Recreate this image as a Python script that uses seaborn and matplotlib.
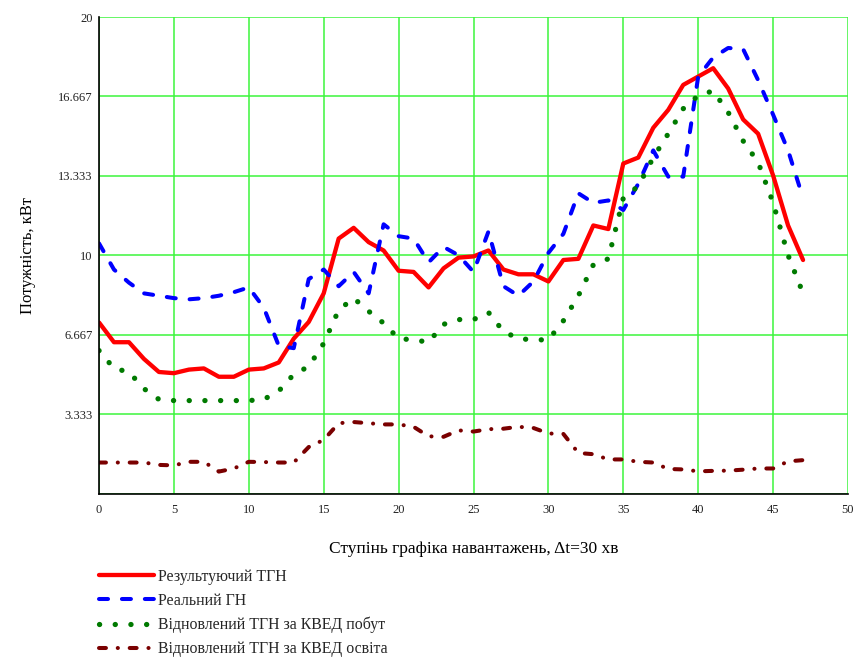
import matplotlib
matplotlib.use("Agg")
import matplotlib.pyplot as plt
import seaborn as sns

# Load-schedule steps (30-minute intervals)
steps = list(range(48))

# Power, kW
resulting = [7.18, 6.35, 6.35, 5.65, 5.1, 5.05, 5.2, 5.25, 4.9, 4.9,
             5.2, 5.25, 5.5, 6.5, 7.2, 8.4, 10.7, 11.15, 10.55, 10.2,
             9.35, 9.3, 8.65, 9.45, 9.9, 9.95, 10.2, 9.4, 9.2, 9.2,
             8.9, 9.8, 9.85, 11.25, 11.1, 13.85, 14.1, 15.35, 16.1, 17.15,
             17.5, 17.85, 17.0, 15.7, 15.1, 13.35, 11.25, 9.8]
real = [10.5, 9.4, 8.85, 8.4, 8.3, 8.2, 8.15, 8.2, 8.3, 8.45,
        8.65, 7.8, 6.2, 6.1, 9.0, 9.4, 8.7, 9.3, 8.4, 11.3,
        10.8, 10.7, 9.7, 10.35, 10.0, 9.3, 11.0, 8.7, 8.3, 8.9,
        10.1, 10.9, 12.6, 12.2, 12.3, 11.9, 13.0, 14.4, 13.3, 13.3,
        17.5, 18.3, 18.7, 18.65, 17.35, 15.9, 14.4, 12.4]
household = [6.0, 5.25, 5.1, 4.4, 3.95, 3.9, 3.9, 3.9, 3.9, 3.9,
             3.9, 3.95, 4.3, 5.0, 5.33, 6.3, 7.7, 8.2, 7.65, 7.15,
             6.5, 6.45, 6.35, 7.1, 7.3, 7.3, 7.6, 6.8, 6.5, 6.45,
             6.45, 7.25, 8.3, 9.6, 9.85, 12.4, 12.9, 14.1, 15.1, 16.15,
             16.7, 16.9, 16.0, 14.8, 13.9, 12.2, 10.0, 8.4]
education = [1.3, 1.3, 1.3, 1.3, 1.2, 1.18, 1.33, 1.33, 0.92, 1.05,
             1.33, 1.32, 1.3, 1.3, 1.95, 2.25, 2.95, 3.0, 2.95, 2.9,
             2.9, 2.8, 2.4, 2.38, 2.65, 2.6, 2.7, 2.72, 2.8, 2.75,
             2.52, 2.5, 1.7, 1.65, 1.43, 1.43, 1.33, 1.3, 1.03, 1.01,
             0.93, 0.95, 0.96, 1.0, 1.05, 1.05, 1.35, 1.4]

series_labels = ["Результуючий ТГН", "Реальний ГН",
                 "Відновлений ТГН за КВЕД побут",
                 "Відновлений ТГН за КВЕД освіта"]
x_ticks = [0, 5, 10, 15, 20, 25, 30, 35, 40, 45, 50]
y_ticks = [0, 10 / 3, 20 / 3, 10, 40 / 3, 50 / 3, 20]
y_tick_labels = ["", "3.333", "6.667", "10", "13.333", "16.667", "20"]

sns.set_style("white")
plt.rcParams["font.family"] = ["Liberation Serif", "DejaVu Serif"]
plt.rcParams["lines.scale_dashes"] = False

W, H = 862, 657
fig = plt.figure(figsize=(W / 100, H / 100), dpi=100)
ax = fig.add_axes([99 / W, 1 - 493.5 / H, 749 / W, 476.5 / H])

styles = [
    dict(color="#ff0000", linestyle="-", lw=3.1, solid_capstyle="round"),
    dict(color="#0000ff", linestyle=(0, (6.5, 10.0)), lw=2.9,
         dash_capstyle="round"),
    dict(color="#007a00", linestyle=(0, (0.1, 11.2)), lw=3.8,
         dash_capstyle="round"),
    dict(color="#7a0000", linestyle=(0, (5.0, 8.5, 0.1, 8.5)), lw=2.9,
         dash_capstyle="round"),
]

for values, label, style in zip([resulting, real, household, education],
                                series_labels, styles):
    sns.lineplot(x=steps, y=values, ax=ax, estimator=None, sort=False,
                 label=label, legend=False, **style)

ax.set_xlim(0, 50)
ax.set_ylim(0, 20)
ax.set_xticks(x_ticks)
ax.set_yticks(y_ticks)
ax.set_yticklabels(y_tick_labels)
ax.grid(True, color="#3cf53c", lw=1.1)
ax.set_axisbelow(True)

for side in ("top", "right"):
    ax.spines[side].set_visible(False)
for side in ("left", "bottom"):
    ax.spines[side].set_color("black")
    ax.spines[side].set_linewidth(1.2)

ax.tick_params(direction="inout", length=6, width=1, color="black",
               labelsize=9, labelcolor="#222222")
ax.tick_params(axis="y", pad=1.5)
ax.tick_params(axis="x", pad=4.5)

ax.set_xlabel("Ступінь графіка навантажень, Δt=30 хв", fontsize=12.5,
              labelpad=18, color="black")
ax.set_ylabel("Потужність, кВт", fontsize=12, labelpad=16, color="black")

handles = ax.get_lines()[:4]
fig.legend(handles, series_labels, loc="upper left",
           bbox_to_anchor=(99 / W, 1 - 569 / H), frameon=False,
           handlelength=3.45, handletextpad=0.3, labelspacing=0.5,
           fontsize=11.4, borderaxespad=0, borderpad=0)

fig.savefig("out.png", dpi=100)
